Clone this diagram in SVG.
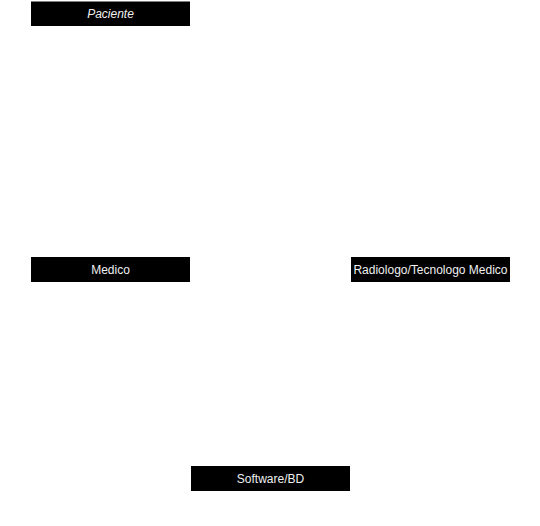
<svg xmlns="http://www.w3.org/2000/svg" width="540" height="526" viewBox="0 0 540 526">
<style>
.box{fill:#000000;stroke:none}
.lbl{font-family:"Liberation Sans",Arial,sans-serif;font-size:12px;fill:#f0f0f0;text-anchor:middle;dominant-baseline:central}
</style>
<rect width="540" height="526" fill="#ffffff"/>
<g id="connectors"></g>
<g id="paciente"><rect class="box" x="31" y="1.5" width="159" height="24.5"/><text class="lbl" x="110.5" y="14" font-style="italic">Paciente</text></g>
<g id="medico"><rect class="box" x="31" y="257" width="159" height="25"/><text class="lbl" x="110.5" y="269.5">Medico</text></g>
<g id="radiologo"><rect class="box" x="351" y="257" width="159" height="25"/><text class="lbl" x="430.5" y="269.5">Radiologo/Tecnologo Medico</text></g>
<g id="software"><rect class="box" x="191" y="466" width="159" height="25"/><text class="lbl" x="270.5" y="478.5">Software/BD</text></g>
</svg>
